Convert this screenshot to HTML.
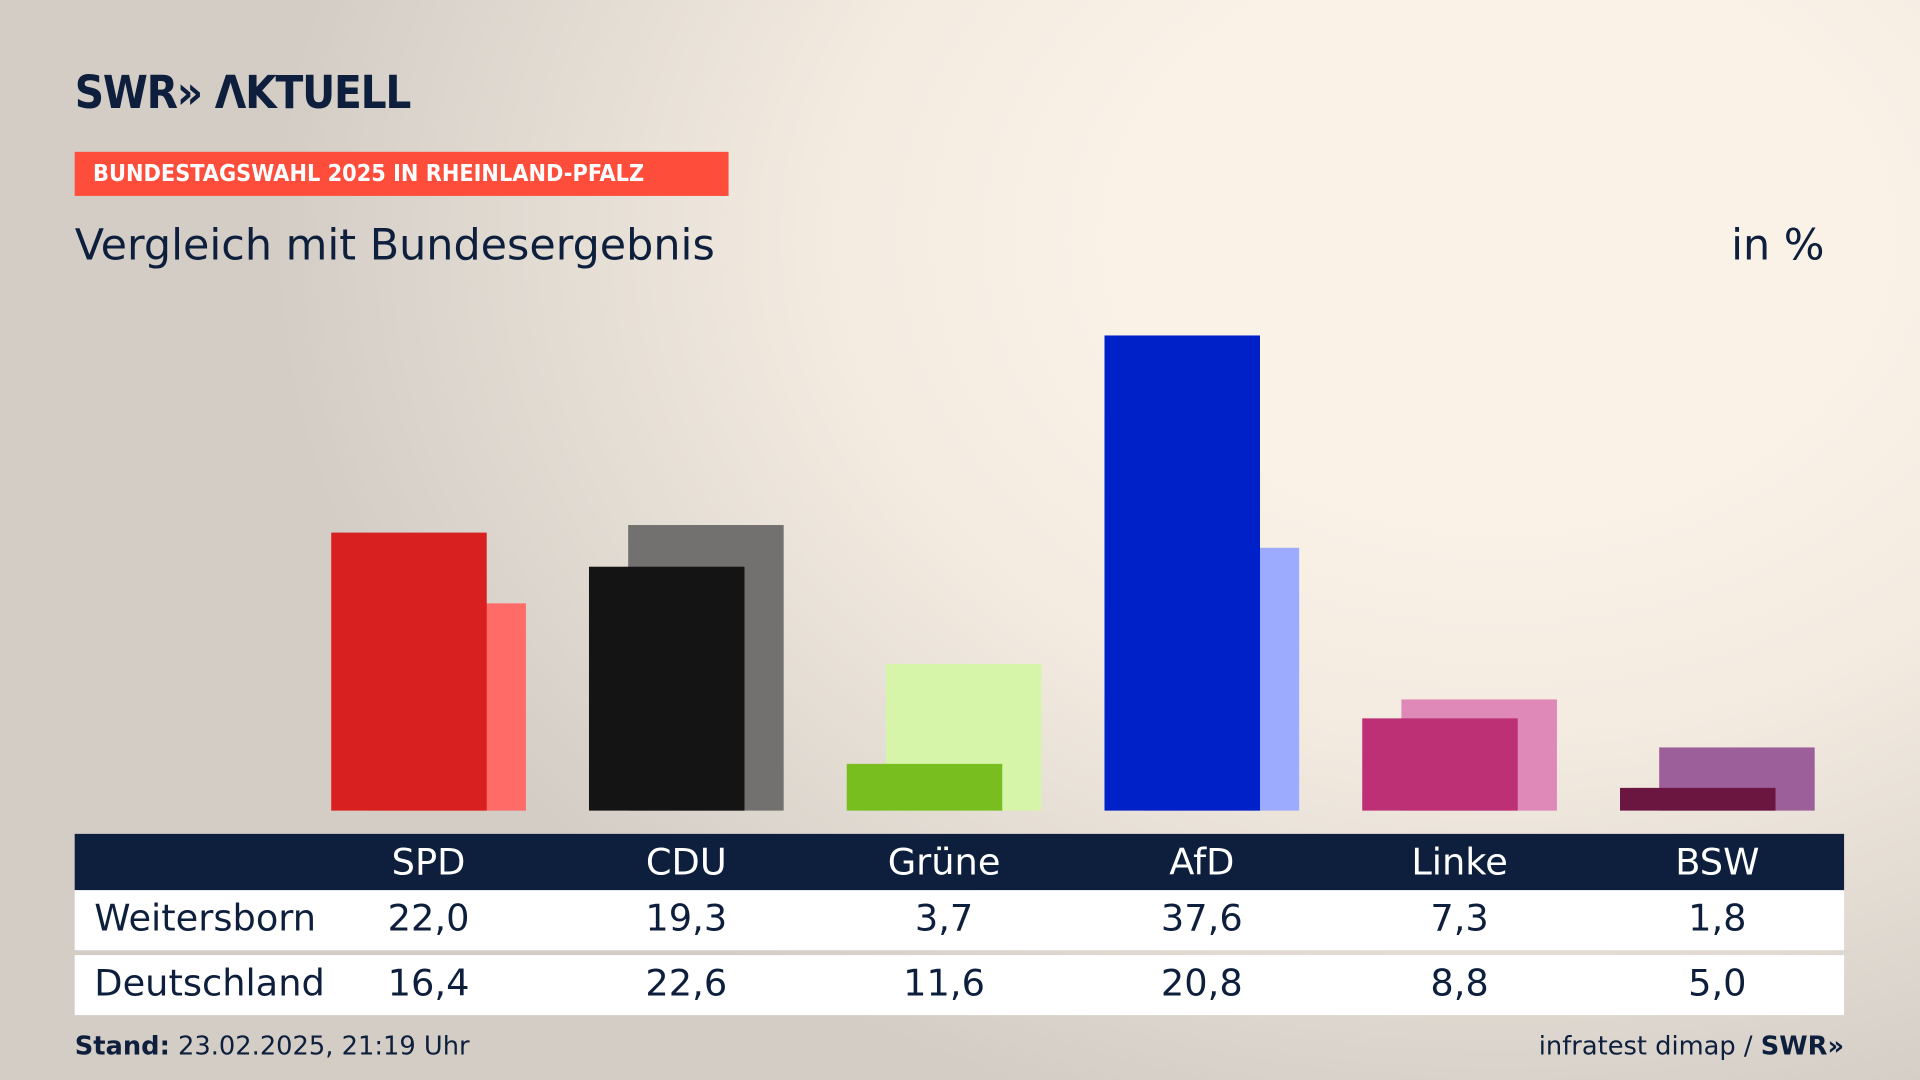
<!DOCTYPE html>
<html><head><meta charset="utf-8"><style>
html,body{margin:0;padding:0;width:1920px;height:1080px;overflow:hidden}
body{background:#f7efe4}
#wrap{position:absolute;left:0;top:0;width:1568px;height:882px;transform:scale(1.22449);transform-origin:0 0;
background:radial-gradient(ellipse 1000px 750px at 78% 22%,#faf2e7 30%,#f3ebe0 55%,#d3cdc6 100%);
font-family:"DejaVu Sans","Liberation Sans",sans-serif;color:#0d1f3c}
.abs{position:absolute}
</style></head><body>
<div id="wrap">
<div class="abs" style="left:61px;top:54px;font:bold 37px 'DejaVu Sans Condensed','Liberation Sans Narrow',sans-serif;letter-spacing:-1px;color:#0d1f3c">SWR»&nbsp;ΛKTUELL</div>
<div class="abs" style="left:61px;top:124px;width:534px;height:36px;background:#ff4d3c;color:#fff;font:bold 19px 'DejaVu Sans Condensed',sans-serif;line-height:37px;text-indent:15px">BUNDESTAGSWAHL 2025 IN RHEINLAND-PFALZ</div>
<div class="abs" style="left:61px;top:181px;font-size:35px">Vergleich mit Bundesergebnis</div>
<div class="abs" style="right:78px;top:181px;font-size:35px">in %</div>
<svg id="chart" class="abs" style="left:0;top:0" width="1568" height="882"></svg>
<div class="abs" style="left:61px;top:681px;width:1445px;height:46px;background:#0d1f3c"></div>
<div class="abs" style="left:61px;top:727px;width:1445px;height:49px;background:#fff"></div>
<div class="abs" style="left:61px;top:780px;width:1445px;height:49px;background:#fff"></div>
<div class="abs" style="left:77px;top:733px;font-size:30px">Weitersborn</div>
<div class="abs" style="left:77px;top:786px;font-size:30px">Deutschland</div>
<div id="cells"></div>
<div class="abs" style="left:61px;top:842px;font-size:21px"><b>Stand:</b> 23.02.2025, 21:19 Uhr</div>
<div class="abs" style="right:62px;top:842px;font-size:21px">infratest dimap / <b>SWR»</b></div>
</div>
<script>
const parties=["SPD","CDU","Grüne","AfD","Linke","BSW"];
const local=[22.0,19.3,3.7,37.6,7.3,1.8];
const federal=[16.4,22.6,11.6,20.8,8.8,5.0];
const frontColors=["#d7201f","#141414","#77be1e","#0020c8","#bd3075","#6b1640"];
const backColors=["#ff6b66","#737170","#d7f5a8","#9dabff","#df89b8","#9c5f99"];
const base=662,pp=10.32,x0=350,step=210.5,bw=127,off=32;
const y=v=>base-v*pp, cx=i=>x0+i*step;
const svg=document.getElementById('chart'),NS="http://www.w3.org/2000/svg";
function rect(x,yy,w,h,f,n){const r=document.createElementNS(NS,'rect');
r.setAttribute('x',x);r.setAttribute('y',yy);r.setAttribute('width',w);r.setAttribute('height',h);r.setAttribute('fill',f);


svg.appendChild(r);}
const cells=document.getElementById('cells');
function cell(t,c,top,col,n){const d=document.createElement('div');d.className='abs';d.textContent=t;
d.style.cssText=`left:${c-100}px;width:200px;text-align:center;top:${top}px;font-size:30px;color:${col}`;


cells.appendChild(d);}
const fmt=v=>v.toFixed(1).replace('.',',');
parties.forEach((p,i)=>{
  const c=cx(i);
  const left=c-bw/2-off/2;
  rect(left+off,y(federal[i]),bw,federal[i]*pp,backColors[i],'bar-federal-'+p.toLowerCase());
  rect(left,y(local[i]),bw,local[i]*pp,frontColors[i],'bar-local-'+p.toLowerCase());
  cell(p,c,687,'#fff','header-'+p.toLowerCase());
  cell(fmt(local[i]),c,733,'#0d1f3c','value-local-'+p.toLowerCase());
  cell(fmt(federal[i]),c,786,'#0d1f3c','value-federal-'+p.toLowerCase());
});
</script>
</body></html>
